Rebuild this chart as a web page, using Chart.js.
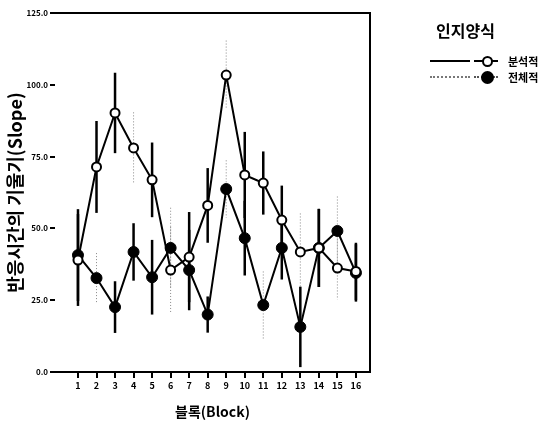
<!DOCTYPE html>
<html>
<head>
<meta charset="utf-8">
<script src="https://cdn.jsdelivr.net/npm/chart.js@4.4.1/dist/chart.umd.min.js"></script>
<style>
  body { margin: 0; background: #fff; }
  #wrap { position: relative; width: 549px; height: 430px; }
  #legend { position: absolute; left: 430px; top: 18px; font-family: "Noto Sans CJK KR", sans-serif; color: #000; }
  #legend .title { font-size: 16px; font-weight: bold; margin-left: 6px; margin-bottom: 11px; }
  #legend .row { display: flex; align-items: center; height: 16px; }
  #legend .line { width: 40px; margin-right: 4px; border-top: 2px solid #000; }
  #legend .line.dot { border-top: 2px dotted #777; }
  #legend .mk { position: relative; width: 24px; border-top: 2px solid #000; margin-right: 10px; }
  #legend .mk.dot { border-top: 2px dotted #555; }
  #legend .mk span { position: absolute; left: 8px; top: -6px; width: 7px; height: 7px; border: 2px solid #000; background: #fff; border-radius: 50%; }
  #legend .mk.dot span { background: #000; left: 7px; top: -7px; width: 9px; height: 9px; }
  #legend .lbl { font-size: 11px; font-weight: bold; }
</style>
</head>
<body>
<div id="wrap">
  <canvas id="plot"></canvas>
  <div id="legend">
    <div class="title">인지양식</div>
    <div class="row"><div class="line"></div><div class="mk"><span></span></div><div class="lbl">분석적</div></div>
    <div class="row"><div class="line dot"></div><div class="mk dot"><span></span></div><div class="lbl">전체적</div></div>
  </div>
</div>
<script>
const blocks = [1, 2, 3, 4, 5, 6, 7, 8, 9, 10, 11, 12, 13, 14, 15, 16];
const yTicks = [0, 25, 50, 75, 100, 125];

// 분석적 (open markers)
const analytic = [39, 71.4, 90.2, 78, 66.9, 35.5, 40, 58, 103.4, 68.6, 65.8, 52.9, 41.8, 43.2, 36.2, 35];
const analyticErr = [16, 16, 14, 12.4, 13, 15, 15.7, 13, 12, 15, 11, 12, 13.4, 13.6, 11, 10];

// 전체적 (filled markers)
const holistic = [40.7, 32.7, 22.6, 41.8, 33, 43.2, 35.5, 20, 63.7, 46.6, 23.3, 43.2, 15.7, 43.2, 49.1, 34.5];
const holisticErr = [16, 8.7, 9, 10, 13, 14, 14, 6.3, 10, 13, 11.7, 11, 14, 13.6, 12, 10];

// which error bars print as thin dotted lines in the scan
const analyticDotted = [0, 0, 0, 1, 0, 1, 0, 0, 1, 0, 0, 0, 1, 0, 1, 0];
const holisticDotted = [0, 1, 0, 0, 0, 1, 0, 0, 1, 0, 1, 0, 0, 0, 1, 0];

function points(ys) {
  return blocks.map(function(b, i) { return { x: b, y: ys[i] }; });
}

const errorBarPlugin = {
  id: 'error_bars',
  beforeDatasetsDraw: (chart) => {
    const ctx = chart.ctx;
    const xs = chart.scales.x;
    const ys = chart.scales.y;
    chart.data.datasets.forEach((ds) => {
      ds.data.forEach((p, i) => {
        const x = xs.getPixelForValue(p.x);
        const top = ys.getPixelForValue(p.y + ds.errors[i]);
        const bot = ys.getPixelForValue(p.y - ds.errors[i]);
        ctx.save();
        if (ds.dotted[i]) {
          ctx.strokeStyle = '#888';
          ctx.lineWidth = 1;
          ctx.setLineDash([1, 2]);
        } else {
          ctx.strokeStyle = '#000';
          ctx.lineWidth = 2.5;
        }
        ctx.beginPath();
        ctx.moveTo(x, top);
        ctx.lineTo(x, bot);
        ctx.stroke();
        ctx.restore();
      });
    });
  }
};

const framePlugin = {
  id: 'frame',
  afterDraw: (chart) => {
    const a = chart.chartArea;
    const ctx = chart.ctx;
    ctx.save();
    ctx.strokeStyle = '#000';
    ctx.lineWidth = 2;
    ctx.beginPath();
    ctx.moveTo(a.left, a.top);
    ctx.lineTo(a.right, a.top);
    ctx.lineTo(a.right, a.bottom);
    ctx.lineTo(a.left, a.bottom);
    ctx.stroke();
    ctx.restore();
  }
};

const boldFont = (size) => ({ family: '"Noto Sans CJK KR", sans-serif', size: size, weight: 'bold' });

const config = {
  type: 'line',
  plugins: [errorBarPlugin, framePlugin],
  data: {
    datasets: [
      {
        label: '분석적',
        data: points(analytic),
        errors: analyticErr,
        dotted: analyticDotted,
        borderColor: '#000',
        borderWidth: 2,
        pointRadius: 4.5,
        pointBorderWidth: 2,
        pointBackgroundColor: '#fff',
        pointBorderColor: '#000',
      },
      {
        label: '전체적',
        data: points(holistic),
        errors: holisticErr,
        dotted: holisticDotted,
        borderColor: '#000',
        borderWidth: 2,
        pointRadius: 5.5,
        pointBorderWidth: 1,
        pointBackgroundColor: '#000',
        pointBorderColor: '#000',
      }
    ]
  },
  options: {
    animation: false,
    responsive: true,
    maintainAspectRatio: false,
    layout: { padding: { left: 0, top: 13, right: 179, bottom: 0 } },
    plugins: {
      legend: { display: false },
      tooltip: { enabled: false }
    },
    scales: {
      x: {
        type: 'linear',
        min: -0.24,
        max: 16.76,
        afterBuildTicks: (scale) => { scale.ticks = blocks.map(v => ({ value: v })); },
        afterFit: (scale) => { scale.height = 58; },
        border: { display: false },
        grid: { drawOnChartArea: false, color: '#000', lineWidth: 2, tickLength: 6 },
        ticks: { color: '#000', font: boldFont(9), padding: 2, maxRotation: 0 },
        title: { display: true, text: '블록(Block)', color: '#000', font: boldFont(14), padding: { top: 0, bottom: 10 } }
      },
      y: {
        min: 0,
        max: 125,
        afterBuildTicks: (scale) => { scale.ticks = yTicks.map(v => ({ value: v })); },
        afterFit: (scale) => { scale.width = 55; },
        border: { display: false },
        grid: { drawOnChartArea: false, color: '#000', lineWidth: 2, tickLength: 5 },
        ticks: { color: '#000', font: boldFont(8), padding: 2, callback: (v) => v.toFixed(1) },
        title: { display: true, text: '반응시간의 기울기(Slope)', color: '#000', font: boldFont(18), padding: { top: 4, bottom: 0 } }
      }
    }
  }
};

const canvas = document.getElementById('plot');
const chart = new Chart(canvas.getContext('2d'), config);
</script>
</body>
</html>
